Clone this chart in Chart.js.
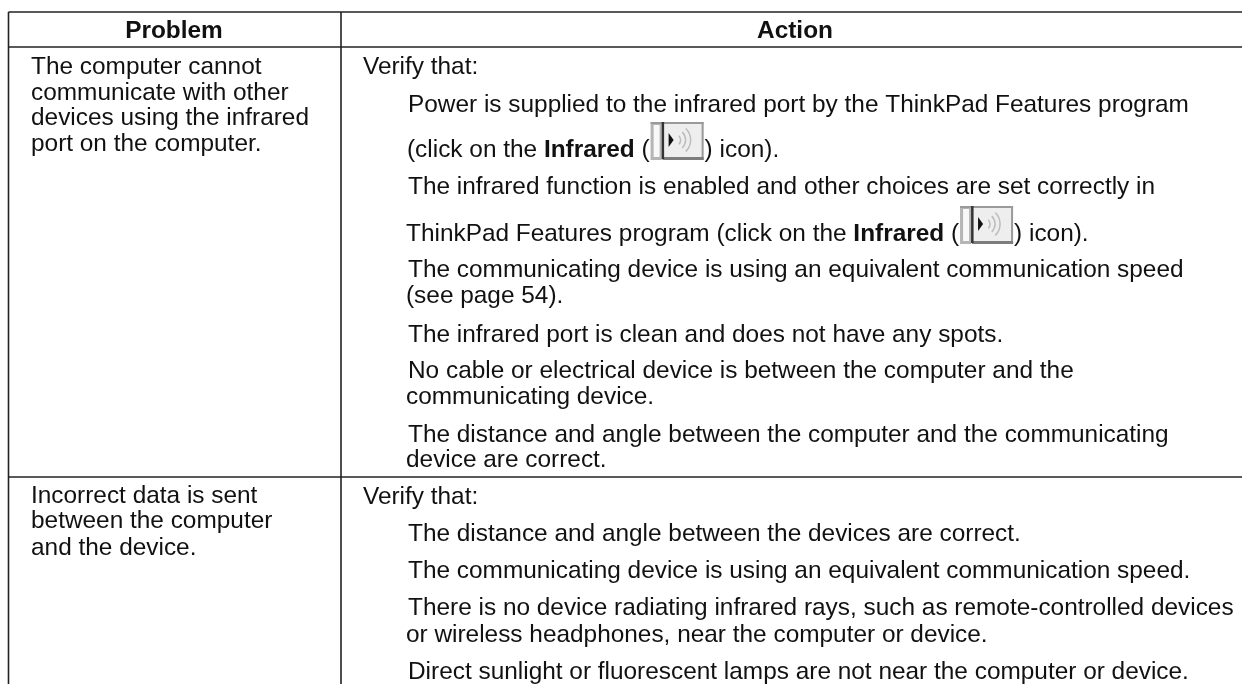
<!DOCTYPE html>
<html>
<head>
<meta charset="utf-8">
<style>
  html, body { margin: 0; padding: 0; background: #fff; }
  #wrap { width: 1242px; height: 684px; }
</style>
<script src="https://cdn.jsdelivr.net/npm/chart.js@4"></script>
</head>
<body>
<div id="wrap"><canvas id="chart"></canvas></div>
<script>
// table text, one entry per printed line. **x** marks bold runs, @ is the toolbar icon
const headers = ['Problem', 'Action'];
const problemLines = [
  'The computer cannot',
  'communicate with other',
  'devices using the infrared',
  'port on the computer.',
  'Incorrect data is sent',
  'between the computer',
  'and the device.'
];
const actionLines = [
  'Verify that:',
  'Power is supplied to the infrared port by the ThinkPad Features program',
  '(click on the **Infrared** (@) icon).',
  'The infrared function is enabled and other choices are set correctly in',
  'ThinkPad Features program (click on the **Infrared** (@) icon).',
  'The communicating device is using an equivalent communication speed',
  '(see page 54).',
  'The infrared port is clean and does not have any spots.',
  'No cable or electrical device is between the computer and the',
  'communicating device.',
  'The distance and angle between the computer and the communicating',
  'device are correct.',
  'Verify that:',
  'The distance and angle between the devices are correct.',
  'The communicating device is using an equivalent communication speed.',
  'There is no device radiating infrared rays, such as remote-controlled devices',
  'or wireless headphones, near the computer or device.',
  'Direct sunlight or fluorescent lamps are not near the computer or device.'
];

// baselines, on a 0-684 axis
const headerRow = [38];
const headerCols = [174, 795];
const problemRows = [74, 99.5, 125, 151, 503, 528, 555];
const actionRows = [74, 112, 157, 194, 241, 277, 303, 342, 378, 404, 442, 467, 504, 541, 578, 615, 642, 679];
const actionIndent = [363, 408, 407, 408, 406, 408, 406, 408, 408, 406, 408, 406, 363, 408, 408, 408, 406, 408];

const ruleRows = [12, 47, 477];
const ruleCols = [8.5, 341];

const FONT = '"Liberation Sans", Arial, sans-serif';
const SIZE = 24.4;

function drawIcon(ctx, x, y) {
  const top = y - 35, w = 53, h = 38;
  ctx.fillStyle = '#eeeeee';
  ctx.fillRect(x, top, w, h);
  // raised left strip
  ctx.fillStyle = '#b5b5b5';
  ctx.fillRect(x, top, 11, h);
  ctx.fillStyle = '#f8f8f8';
  ctx.fillRect(x + 3, top + 3, 6, h - 6);
  // frame
  ctx.fillStyle = '#9a9a9a';
  ctx.fillRect(x, top, w, 2);
  ctx.fillRect(x + w - 2, top, 2, h);
  ctx.fillStyle = '#7d7d7d';
  ctx.fillRect(x + 12, top + h - 3, w - 12, 3);
  ctx.fillStyle = '#333';
  ctx.fillRect(x + 11, top, 2.5, h - 1);
  // speaker
  ctx.fillStyle = '#111';
  ctx.beginPath();
  ctx.moveTo(x + 18, top + 11);
  ctx.lineTo(x + 23, top + 18);
  ctx.lineTo(x + 18, top + 25);
  ctx.closePath();
  ctx.fill();
  ctx.strokeStyle = '#bcbcbc';
  ctx.lineWidth = 1.5;
  [6, 11, 16].forEach(r => {
    ctx.beginPath();
    ctx.arc(x + 24, top + 18, r, -0.8, 0.8);
    ctx.stroke();
  });
}

function drawLine(ctx, text, x, y) {
  text.split('**').forEach((part, i) => {
    ctx.font = (i % 2 ? 'bold ' : '') + SIZE + 'px ' + FONT;
    const bits = part.split('@');
    bits.forEach((bit, j) => {
      ctx.fillStyle = '#111';
      ctx.fillText(bit, x, y);
      x += ctx.measureText(bit).width;
      if (j < bits.length - 1) {
        drawIcon(ctx, x + 1, y);
        x += 55;
      }
    });
  });
}

const tableText = {
  id: 'tableText',
  afterDatasetsDraw(chart) {
    const { ctx, scales: { x, y } } = chart;
    ctx.save();
    ctx.textBaseline = 'alphabetic';
    ctx.fillStyle = '#111';
    ctx.font = 'bold ' + SIZE + 'px ' + FONT;
    ctx.textAlign = 'center';
    headers.forEach((h, i) => {
      ctx.fillText(h, x.getPixelForValue(headerCols[i]), y.getPixelForValue(headerRow[0]));
    });
    ctx.textAlign = 'left';
    problemLines.forEach((t, i) => {
      drawLine(ctx, t, x.getPixelForValue(31), y.getPixelForValue(problemRows[i]));
    });
    actionLines.forEach((t, i) => {
      drawLine(ctx, t, x.getPixelForValue(actionIndent[i]), y.getPixelForValue(actionRows[i]));
    });
    ctx.restore();
  }
};

const rules = ruleRows.map(r => ({
  data: [{ x: ruleCols[0], y: r }, { x: 1242, y: r }]
})).concat(ruleCols.map(c => ({
  data: [{ x: c, y: ruleRows[0] }, { x: c, y: 684 }]
})));

new Chart(document.getElementById('chart'), {
  type: 'line',
  data: {
    datasets: rules.map(r => ({
      ...r,
      borderColor: '#222',
      borderWidth: 1.6,
      pointRadius: 0,
      tension: 0
    }))
  },
  options: {
    responsive: true,
    maintainAspectRatio: false,
    animation: false,
    layout: { padding: 0 },
    plugins: { legend: { display: false }, tooltip: { enabled: false } },
    scales: {
      x: { type: 'linear', min: 0, max: 1242, display: false },
      y: { type: 'linear', min: 0, max: 684, reverse: true, display: false }
    }
  },
  plugins: [tableText]
});
</script>
</body>
</html>
